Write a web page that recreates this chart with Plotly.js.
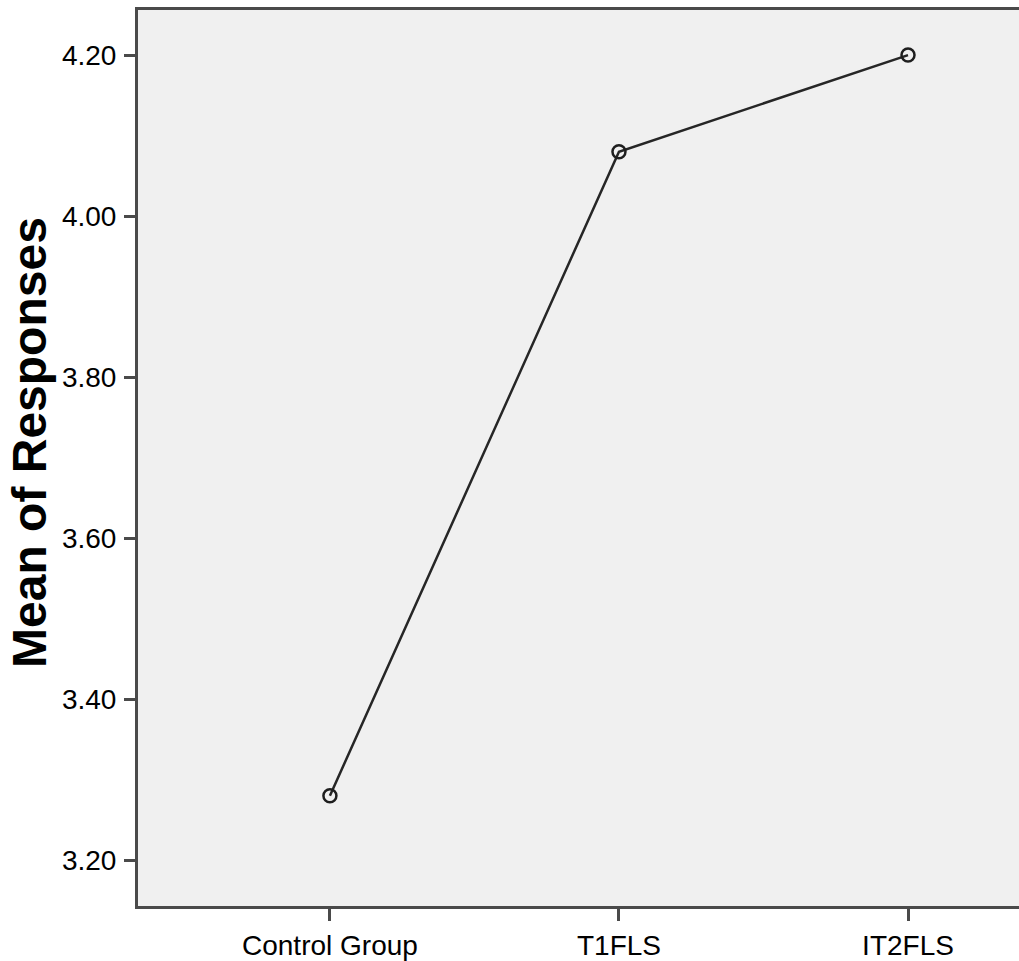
<!DOCTYPE html>
<html>
<head>
<meta charset="utf-8">
<script src="https://cdn.plot.ly/plotly-3.0.1.min.js"></script>
<style>html,body{margin:0;padding:0;background:#fff;}#chart{width:1019px;height:961px;}</style>
</head>
<body>
<div id="chart"></div>
<script>
const groups = ["Control Group", "T1FLS", "IT2FLS"];
const meanResponses = [3.28, 4.08, 4.20];
const yTickVals = [3.20, 3.40, 3.60, 3.80, 4.00, 4.20];
const yTickText = ["3.20", "3.40", "3.60", "3.80", "4.00", "4.20"];
const yTitle = "Mean of Responses";

const tickFont = {family: "'Liberation Sans', Arial, sans-serif", size: 28, color: "#000"};

const trace = {
  x: groups,
  y: meanResponses,
  type: "scatter",
  mode: "lines+markers",
  line: {color: "#262626", width: 2.5},
  marker: {symbol: "circle-open", size: 13, color: "#1e1e1e", line: {width: 2.5, color: "#1e1e1e"}},
  hoverinfo: "skip"
};

const layout = {
  width: 1019,
  height: 961,
  margin: {l: 138, r: 0, t: 10, b: 55},
  paper_bgcolor: "#ffffff",
  plot_bgcolor: "#f0f0f0",
  showlegend: false,
  xaxis: {
    type: "category",
    range: [-0.664, 2.384],
    showgrid: false,
    zeroline: false,
    showline: true,
    linecolor: "#4a4a4a",
    linewidth: 3,
    mirror: true,
    ticks: "outside",
    ticklen: 12,
    tickwidth: 3,
    tickcolor: "#4a4a4a",
    tickfont: tickFont,
    ticklabelstandoff: 0
  },
  yaxis: {
    range: [3.143, 4.256],
    tickvals: yTickVals,
    ticktext: yTickText,
    showgrid: false,
    zeroline: false,
    showline: true,
    linecolor: "#4a4a4a",
    linewidth: 3,
    ticks: "outside",
    ticklen: 11,
    tickwidth: 3,
    tickcolor: "#4a4a4a",
    tickfont: tickFont,
    ticklabelstandoff: 2
  },
  annotations: [{
    text: yTitle,
    xref: "paper", yref: "paper",
    x: -0.1226, y: 0.5179,
    xanchor: "center", yanchor: "middle",
    textangle: -90,
    showarrow: false,
    font: {family: "'Liberation Sans', Arial, sans-serif", size: 48, color: "#000", weight: "bold"}
  }]
};

Plotly.newPlot("chart", [trace], layout, {displayModeBar: false, staticPlot: true});
</script>
</body>
</html>
